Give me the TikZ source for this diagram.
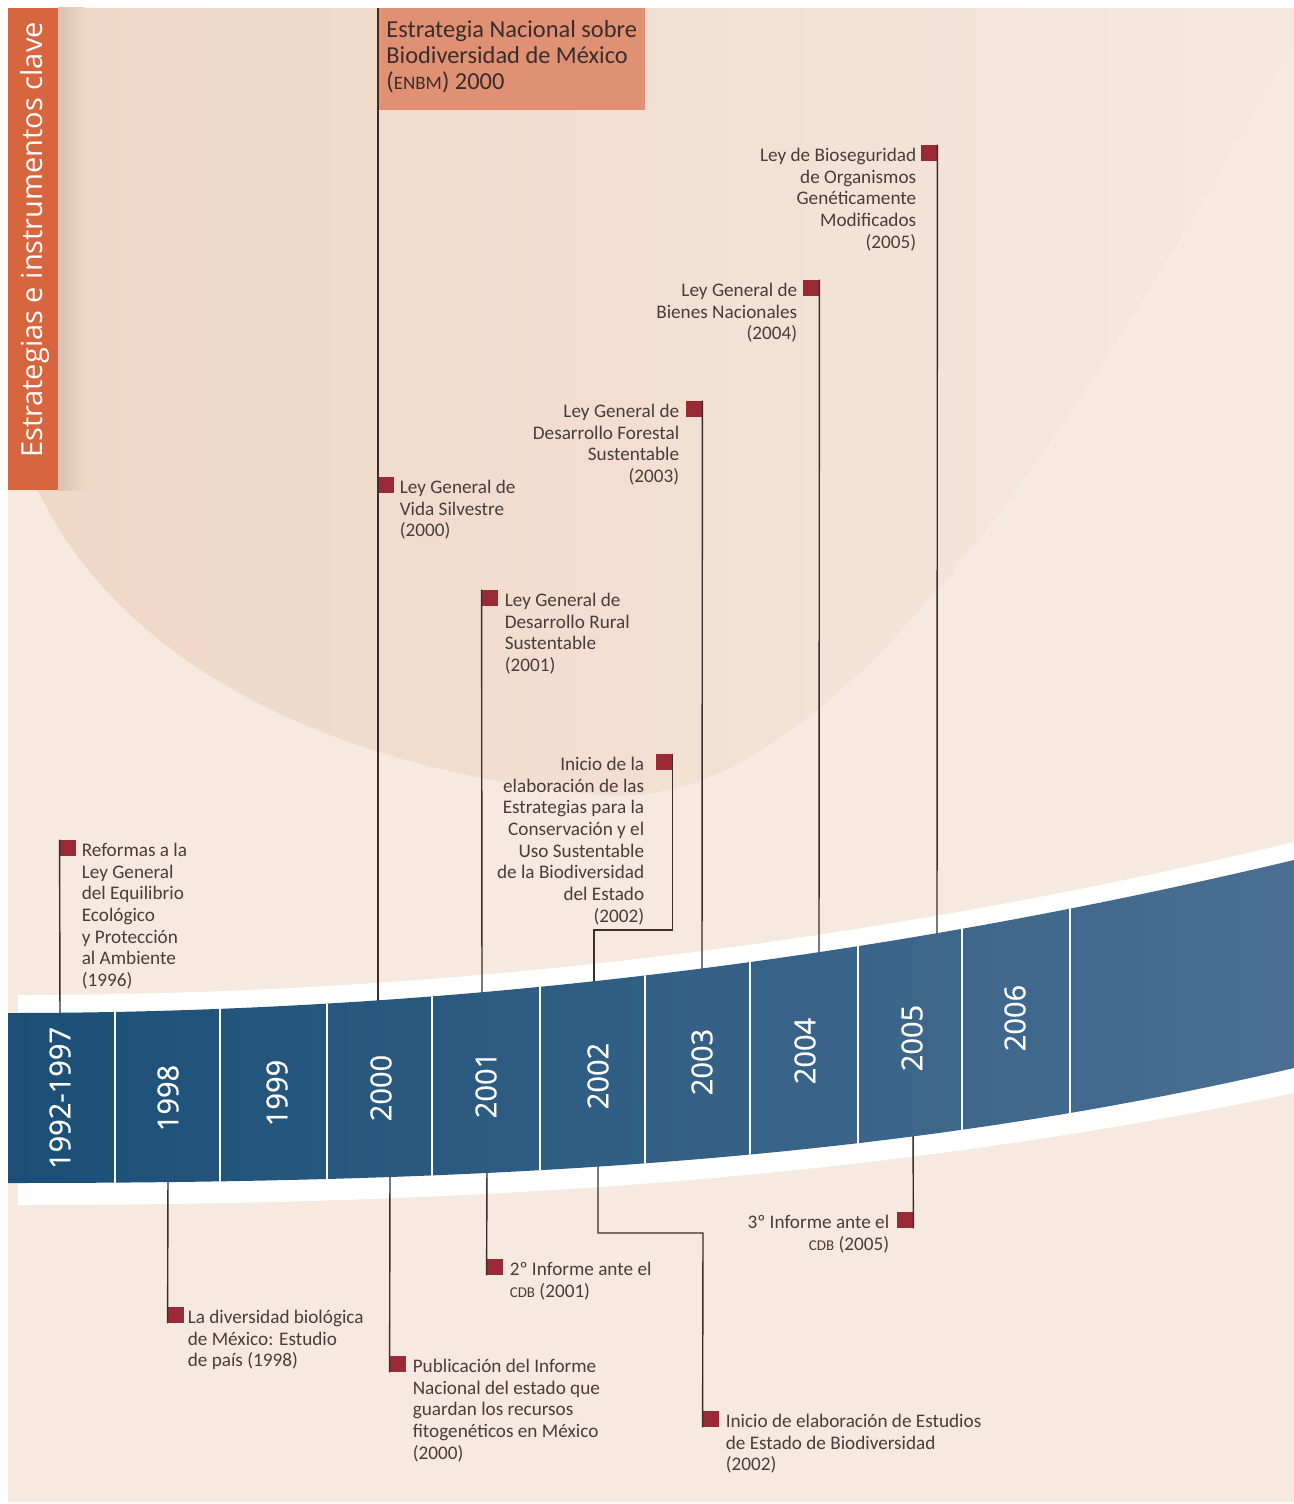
\documentclass[tikz,border=0pt]{standalone}
\usepackage{fontspec}
\setmainfont{Carlito}
\newfontfamily\labelfont[FakeBold=0.5]{Open Sans}
\newfontfamily\titlefont{Open Sans}
\usetikzlibrary{positioning}

\definecolor{paper}{HTML}{F5E9E0}
\definecolor{peachA}{HTML}{EFD7C5}
\definecolor{peachB}{HTML}{F5E8DF}
\definecolor{barshade}{HTML}{D9C2B2}
\definecolor{brick}{HTML}{D7663F}
\definecolor{salmon}{HTML}{E09173}
\definecolor{wine}{HTML}{9A2A36}
\definecolor{ink}{HTML}{4B3B3C}
\definecolor{darkink}{HTML}{3A2C2D}
\definecolor{stem}{HTML}{3E2B2D}
\definecolor{bandL}{HTML}{1B4F77}
\definecolor{bandR}{HTML}{4A6F92}

\newcommand{\petite}[1]{\scalebox{0.78}{#1}}

\tikzset{
  tag/.style={fill=wine, minimum size=8pt, inner sep=0pt},
  stemline/.style={draw=stem, line width=0.7pt},
  evtext/.style={text=ink, inner sep=0pt, align=left, font=\fontsize{9.6}{10.85}\selectfont},
  evtextR/.style={evtext, align=right},
  yearlabel/.style={text=white, rotate=90, font=\labelfont\fontsize{14.5}{16}\selectfont},
}

\begin{document}
\begin{tikzpicture}[x=0.5pt, y=-0.5pt]
\useasboundingbox (0,0) rectangle (1294,1504);
\fill[white] (0,0) rectangle (1294,1504);
\fill[paper] (8,8) rectangle (1294,1502);

% soft arc behind the top half
\shade[left color=peachA, right color=peachB] (25,460) .. controls (100,660) and (330,770) .. (600,795)
  .. controls (850,820) and (1120,350) .. (1294,40) -- (1294,8) -- (8,8) -- (8,460) -- cycle;

% side title
\shade[left color=barshade, right color=peachA] (58,8) rectangle (85,490);
\fill[brick] (8,8) rectangle (58,490);
\node[text=white, rotate=90, font=\titlefont\fontsize{14.5}{16}\selectfont] (title) at (35,240) {Estrategias e instrumentos clave};

% ENBM box on the 2000 line
\coordinate (topB) at (378,8);
\fill[salmon] (topB) rectangle (645,110);
\node[anchor=north west, inner sep=0pt, align=left, text=darkink, font=\fontsize{12.2}{13}\selectfont] (enbm) at (386,20)
  {Estrategia Nacional sobre\\Biodiversidad de México\\(\petite{ENBM}) 2000};

% events above the band
\node[tag] (sqA) at (68,848) {};
\node[evtext, right=2.5pt of sqA.north east, anchor=north west, yshift=-1.5pt] (txA) {Reformas a la\\Ley General\\del Equilibrio\\Ecológico\\y Protección\\al Ambiente\\(1996)};
\node[tag] (sqB) at (386,485) {};
\node[evtext, right=2.5pt of sqB.north east, anchor=north west, yshift=-1.5pt] (txB) {Ley General de\\Vida Silvestre\\(2000)};
\node[tag] (sqC) at (490,598) {};
\node[evtext, right=3pt of sqC.north east, anchor=north west, yshift=-1.5pt] (txC) {Ley General de\\Desarrollo Rural\\Sustentable\\(2001)};
\node[tag] (sqD) at (664,762) {};
\node[evtextR, left=5.5pt of sqD.north west, anchor=north east, yshift=-1.5pt] (txD) {Inicio de la\\elaboración de las\\Estrategias para la\\Conservación y el\\Uso Sustentable\\de la Biodiversidad\\del Estado\\(2002)};
\node[tag] (sqE) at (694,409) {};
\node[evtextR, left=3pt of sqE.north west, anchor=north east, yshift=-1.5pt] (txE) {Ley General de\\Desarrollo Forestal\\Sustentable\\(2003)};
\node[tag] (sqF) at (811,288) {};
\node[evtextR, left=2.5pt of sqF.north west, anchor=north east, yshift=-1.5pt] (txF) {Ley General de\\Bienes Nacionales\\(2004)};
\node[tag] (sqG) at (929,153) {};
\node[evtextR, left=2pt of sqG.north west, anchor=north east, yshift=-1.5pt] (txG) {Ley de Bioseguridad\\de Organismos\\Genéticamente\\Modificados\\(2005)};

% events below the band
\node[tag] (sqH) at (176,1315) {};
\node[evtext, right=1.5pt of sqH.north east, anchor=north west, yshift=-1.5pt] (txH) {La diversidad biológica\\de México: Estudio\\de país (1998)};
\node[tag] (sqI) at (398,1364) {};
\node[evtext, right=3pt of sqI.north east, anchor=north west, yshift=-1.5pt] (txI) {Publicación del Informe\\Nacional del estado que\\guardan los recursos\\fitogenéticos en México\\(2000)};
\node[tag] (sqJ) at (495,1267) {};
\node[evtext, right=3pt of sqJ.north east, anchor=north west, yshift=-1.5pt] (txJ) {2º Informe ante el\\\petite{CDB} (2001)};
\node[tag] (sqK) at (711,1419) {};
\node[evtext, right=3pt of sqK.north east, anchor=north west, yshift=-1.5pt] (txK) {Inicio de elaboración de Estudios\\de Estado de Biodiversidad\\(2002)};
\node[tag] (sqL) at (905,1220) {};
\node[evtextR, left=3.5pt of sqL.north west, anchor=north east, yshift=-1.5pt] (txL) {3º Informe ante el\\\petite{CDB} (2005)};

% white ribbon
\fill[white] (18,995) .. controls (443,995) and (869,944) .. (1294,842) -- (1294,1093)
  .. controls (900,1175) and (510,1205) .. (18,1205) -- cycle;

% stems
\coordinate (bA) at (60,1025);
\coordinate (bB) at (378,1012);
\coordinate (bC) at (482,1005);
\coordinate (kD) at (594,930);
\coordinate (bD) at (594,995);
\coordinate (bE) at (702,980);
\coordinate (bF) at (819,965);
\coordinate (bG) at (937,945);
\coordinate (cH) at (168,1170);
\coordinate (cI) at (390,1165);
\coordinate (cJ) at (487,1162);
\coordinate (cK) at (598,1155);
\coordinate (kK) at (703,1233);
\coordinate (cL) at (913,1125);
\draw[stemline] (sqA.north west) -- (bA);
\draw[stemline] (topB) -- (bB);
\draw[stemline] (sqC.north west) -- (bC);
\draw[stemline] (sqD.north east) |- (kD) -- (bD);
\draw[stemline] (sqE.north east) -- (bE);
\draw[stemline] (sqF.north east) -- (bF);
\draw[stemline] (sqG.north east) -- (bG);
\draw[stemline] (cH) -- (sqH.south west);
\draw[stemline] (cI) -- (sqI.south west);
\draw[stemline] (cJ) -- (sqJ.south west);
\draw[stemline] (cK) |- (kK) -- (sqK.south west);
\draw[stemline] (cL) -- (sqL.south east);

% blue timeline band
\shade[left color=bandL, right color=bandR] (8,1013) .. controls (437,1013) and (865,962) .. (1294,860)
  -- (1294,1068) .. controls (900,1160) and (500,1183) .. (8,1183) -- cycle;
\begin{scope}
  \clip (8,1013) .. controls (437,1013) and (865,962) .. (1294,860)
    -- (1294,1068) .. controls (900,1160) and (500,1183) .. (8,1183) -- cycle;
  \foreach \x in {115,220,327,432,540,645,750,858,962,1070}
    \draw[white, line width=0.8pt] (\x,840) -- (\x,1200);
\end{scope}

\node[yearlabel] (y92) at (60,1098) {1992-1997};
\node[yearlabel] (y98) at (168,1098) {1998};
\node[yearlabel] (y99) at (277,1093) {1999};
\node[yearlabel] (y00) at (381,1088) {2000};
\node[yearlabel] (y01) at (486,1085) {2001};
\node[yearlabel] (y02) at (598,1076) {2002};
\node[yearlabel] (y03) at (702,1062) {2003};
\node[yearlabel] (y04) at (805,1051) {2004};
\node[yearlabel] (y05) at (912,1038) {2005};
\node[yearlabel] (y06) at (1015,1018) {2006};
\end{tikzpicture}
\end{document}
